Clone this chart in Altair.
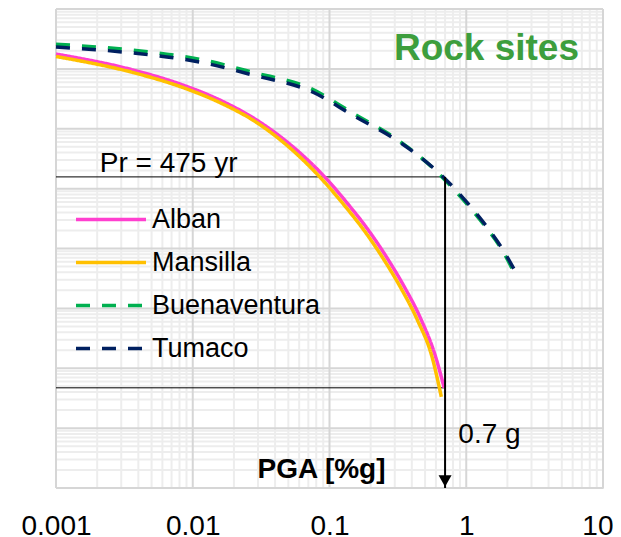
import altair as alt
import pandas as pd

# ---- data ----
series_names = ["Alban", "Mansilla", "Buenaventura", "Tumaco"]
series_colors = ["#FF3FCF", "#FFC000", "#00B050", "#002060"]

pga_alban = [0.001, 0.00365, 0.00845, 0.0157, 0.0293, 0.0574, 0.0921, 0.140, 0.1894, 0.2607, 0.3526, 0.4616, 0.5939, 0.690]
rate_alban = [0.177, 0.0959, 0.0538, 0.0303, 0.0140, 0.00443, 0.00157, 5.14e-4, 2.125e-4, 7.24e-5, 2.285e-5, 6.94e-6, 1.61e-6, 4.71e-7]

pga_mansilla = [0.001, 0.00365, 0.00845, 0.0157, 0.0293, 0.0565, 0.0889, 0.1331, 0.1801, 0.2478, 0.3353, 0.4387, 0.5647, 0.6571]
rate_mansilla = [0.161, 0.0871, 0.0489, 0.0275, 0.01274, 0.00394, 0.0013975, 4.76e-4, 1.967e-4, 6.71e-5, 2.116e-5, 6.43e-6, 1.49e-6, 3.33e-7]

pga_tumaco = [0.001, 0.00365, 0.01125, 0.0274, 0.0752, 0.147, 0.324, 0.565, 0.690, 1.02, 1.38, 1.80, 2.40]
rate_tumaco = [0.232, 0.184, 0.130, 0.0791, 0.0411, 0.0170, 0.00603, 0.00230, 0.00151, 5.77e-4, 2.48e-4, 1.06e-4, 3.36e-5]

pga_buenaventura = [0.001, 0.00365, 0.01125, 0.0274, 0.0752, 0.147, 0.324, 0.565, 0.690, 1.02, 1.38, 1.80, 2.36]
rate_buenaventura = [0.258, 0.205, 0.145, 0.088, 0.0455, 0.0184, 0.00625, 0.00225, 0.00143, 5.4e-4, 2.33e-4, 1.0e-4, 3.1e-5]

# annotation values
pga_design = 0.7
rate_475 = 0.00157
rate_low = 4.71e-7
x_min, x_max = 0.001, 10
y_min, y_max = 1e-8, 1

x_ticks = [0.001, 0.01, 0.1, 1, 10]
y_decades = [1e-8, 1e-7, 1e-6, 1e-5, 1e-4, 1e-3, 1e-2, 1e-1, 1]
minor_mult = [2, 3, 4, 5, 6, 7, 8, 9]
x_minor = [m * d for d in x_ticks[:-1] for m in minor_mult]
y_minor = [m * d for d in y_decades[:-1] for m in minor_mult]

FONT = "Liberation Sans"

rows = []
for name, xs, ys in [("Alban", pga_alban, rate_alban),
                     ("Buenaventura", pga_buenaventura, rate_buenaventura),
                     ("Mansilla", pga_mansilla, rate_mansilla),
                     ("Tumaco", pga_tumaco, rate_tumaco)]:
    for i, (a, b) in enumerate(zip(xs, ys)):
        rows.append({"series": name, "pga": a, "rate": b, "i": i})
curves = pd.DataFrame(rows)

xscale = alt.Scale(type="log", domain=[x_min, x_max])
yscale = alt.Scale(type="log", domain=[y_min, y_max])

xaxis = alt.Axis(values=x_ticks, labelExpr="format(datum.value, '~g')",
                 domain=False, ticks=False, tickSize=0, grid=False, zindex=1,
                 labelFontSize=28, labelFont=FONT, labelColor="black",
                 labelPadding=46, labelBaseline="alphabetic",
                 labelAlign={"condition": {"test": "datum.value >= 10", "value": "right"},
                             "value": "center"},
                 labelOffset={"condition": {"test": "datum.value >= 10", "value": 10},
                              "value": 0},
                 labelFlush=False, labelOverlap=False, labelBound=False,
                 title="PGA [%g]", titleFont=FONT, titleFontSize=28,
                 titleFontWeight="bold", titleColor="black",
                 titleX=265, titleY=-11, titleAlign="center",
                 titleBaseline="alphabetic", titleAngle=0)

gx_minor = alt.Chart(pd.DataFrame({"v": x_minor})).mark_rule(
    color="#EDEDED", strokeWidth=2).encode(x=alt.X("v:Q", scale=xscale, axis=xaxis))
gy_minor = alt.Chart(pd.DataFrame({"v": y_minor})).mark_rule(
    color="#EDEDED", strokeWidth=2).encode(y=alt.Y("v:Q", scale=yscale, axis=None))
gx_major = alt.Chart(pd.DataFrame({"v": x_ticks})).mark_rule(
    color="#D6D6D6", strokeWidth=2).encode(x=alt.X("v:Q", scale=xscale))
gy_major = alt.Chart(pd.DataFrame({"v": y_decades})).mark_rule(
    color="#D6D6D6", strokeWidth=2).encode(y=alt.Y("v:Q", scale=yscale))

hlines = alt.Chart(pd.DataFrame({"x": [x_min, x_min], "x2": [pga_design, pga_design],
                                 "y": [rate_475, rate_low]})).mark_rule(
    color="black", strokeWidth=1).encode(
    x=alt.X("x:Q", scale=xscale), x2="x2:Q", y=alt.Y("y:Q", scale=yscale))

vline = alt.Chart(pd.DataFrame({"x": [pga_design], "y": [rate_475], "y2": [y_min]})).mark_rule(
    color="black", strokeWidth=2).encode(
    x=alt.X("x:Q", scale=xscale), y=alt.Y("y:Q", scale=yscale), y2="y2:Q")

arrow = alt.Chart(pd.DataFrame({"x": [pga_design], "y": [y_min]})).mark_point(
    shape="triangle-down", filled=True, color="black", opacity=1, size=170, yOffset=-7).encode(
    x=alt.X("x:Q", scale=xscale), y=alt.Y("y:Q", scale=yscale))

leg = alt.Legend(orient="none", legendX=18, legendY=189, title=None,
                 symbolType="stroke", symbolSize=4900,
                 symbolStrokeWidth=4, labelFontSize=27, labelFont=FONT,
                 labelColor="black", rowPadding=0, clipHeight=43, labelOffset=4,
                 padding=0, labelLimit=400)

lines = alt.Chart(curves).mark_line(interpolate="monotone").encode(
    x=alt.X("pga:Q", scale=xscale),
    y=alt.Y("rate:Q", scale=yscale),
    order="i:Q",
    color=alt.Color("series:N", scale=alt.Scale(domain=series_names, range=series_colors),
                    legend=leg),
    strokeDash=alt.StrokeDash("series:N",
                              scale=alt.Scale(domain=series_names,
                                              range=[[1, 0], [1, 0], [14, 12], [14, 12]]),
                              legend=leg),
    strokeWidth=alt.StrokeWidth("series:N",
                                scale=alt.Scale(domain=series_names, range=[3.5, 3.5, 4, 4]),
                                legend=None),
)

texts = alt.Chart(pd.DataFrame({
    "x": [0.00209, 0.875],
    "y": [0.0019, 5.7e-8],
    "t": ["Pr = 475 yr", "0.7 g"],
})).mark_text(align="left", baseline="alphabetic", fontSize=28, font=FONT, color="black").encode(
    x=alt.X("x:Q", scale=xscale), y=alt.Y("y:Q", scale=yscale), text="t:N")

chart = alt.layer(gx_minor, gy_minor, gx_major, gy_major, hlines, lines, vline, arrow, texts).properties(
    width=547, height=479,
    title=alt.TitleParams("Rock sites", anchor="end", frame="group", orient="top",
                          offset=0, baseline="alphabetic", dy=89, dx=-24,
                          font=FONT, fontSize=37, fontWeight="bold", color="#3D9E3D"),
    autosize=alt.AutoSizeParams(type="none"),
    padding={"left": 48, "top": 1, "right": 10, "bottom": 48},
).configure_view(stroke="black", strokeWidth=2).configure(font=FONT)

chart.save("out.html", embed_options={"renderer": "svg", "actions": False})
